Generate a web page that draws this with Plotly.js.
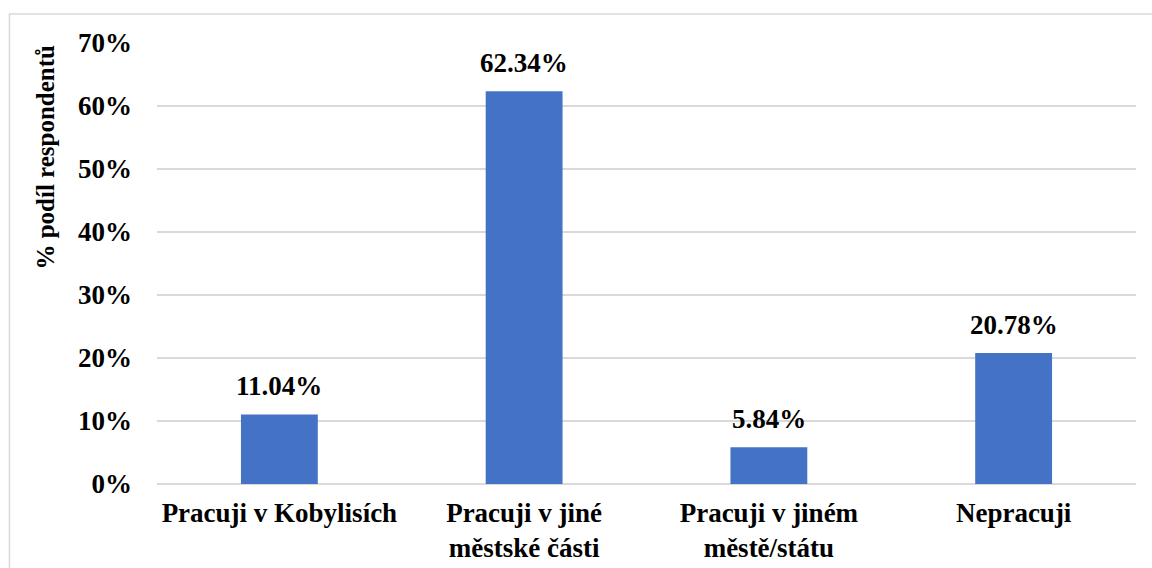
<!DOCTYPE html>
<html>
<head>
<meta charset="utf-8">
<script src="https://cdn.plot.ly/plotly-3.0.1.min.js"></script>
<style>html,body{margin:0;padding:0;background:#fff;}</style>
</head>
<body>
<div id="chart" style="width:1152px;height:568px;"></div>
<script>
const categories = ["Pracuji v Kobylisích", "Pracuji v jiné<br>městské části", "Pracuji v jiném<br>městě/státu", "Nepracuji"];
const values = [11.04, 62.34, 5.84, 20.78];
const valueLabels = ["11.04%", "62.34%", "5.84%", "20.78%"];
const yTickVals = [0, 10, 20, 30, 40, 50, 60, 70];
const yTickText = ["0%", "10%", "20%", "30%", "40%", "50%", "60%", "70%"];
const yTitle = "% podíl respondentů";

const font = "'Liberation Serif', 'Times New Roman', serif";

const trace = {
  type: "bar",
  x: categories,
  y: values,
  marker: {color: "#4472C4"},
  hoverinfo: "skip"
};

const annotations = categories.map((c, i) => ({
  x: c, y: values[i], xref: "x", yref: "y",
  text: "<b>" + valueLabels[i] + "</b>",
  showarrow: false, yanchor: "bottom", yshift: 11,
  font: {family: font, size: 27, color: "#000"}
}));
annotations.push({
  xref: "paper", yref: "paper", x: -0.114, y: 0.741,
  text: "<b>" + yTitle + "</b>", textangle: -90, showarrow: false,
  xanchor: "center", yanchor: "middle",
  font: {family: font, size: 25, color: "#000"}
});

const layout = {
  width: 1152, height: 568,
  margin: {l: 157, r: 16, t: 43, b: 84, pad: 0},
  paper_bgcolor: "#fff", plot_bgcolor: "#fff",
  showlegend: false,
  bargap: 0.686,
  font: {family: font, color: "#000"},
  xaxis: {
    type: "category",
    tickfont: {family: font, size: 27, color: "#000", weight: "bold"},
    showgrid: false, zeroline: false, showline: false, ticks: "",
    ticklabelstandoff: 10,
    fixedrange: true
  },
  yaxis: {
    range: [0, 70],
    tickvals: yTickVals, ticktext: yTickText,
    tickfont: {family: font, size: 27, color: "#000", weight: "bold"},
    showgrid: true, gridcolor: "#d9d9d9", gridwidth: 1.5,
    zeroline: true, zerolinecolor: "#d9d9d9", zerolinewidth: 1.5,
    showline: false, ticks: "",
    ticklabelstandoff: 24,
    fixedrange: true
  },
  annotations: annotations,
  shapes: [{
    type: "rect", xref: "paper", yref: "paper",
    x0: -0.1507, x1: 1.03, y0: -0.23, y1: 1.0658,
    line: {color: "#d9d9d9", width: 1.5}, fillcolor: "rgba(0,0,0,0)", layer: "below"
  }]
};

Plotly.newPlot("chart", [trace], layout, {displayModeBar: false, staticPlot: true});
</script>
</body>
</html>
